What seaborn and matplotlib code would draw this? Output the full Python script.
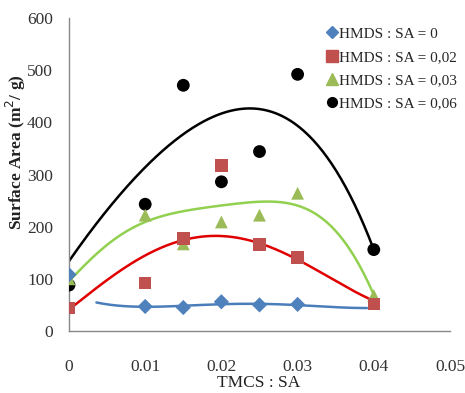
import numpy as np
import pandas as pd
import matplotlib
matplotlib.use("Agg")
import matplotlib.pyplot as plt
import seaborn as sns
from matplotlib.lines import Line2D

# ---- data ----
x_vals = [0.0, 0.01, 0.015, 0.02, 0.025, 0.03, 0.04]
sa_0 = [108, 47, 45, 56, 50, 51, None]
sa_002 = [44, 92, 177, 317, 166, 141, 52]
sa_003 = [100, 222, 167, 209, 222, 264, 68]
sa_006 = [88, 243, 471, 286, 344, 492, 156]
series_names = ["HMDS : SA = 0", "HMDS : SA = 0,02", "HMDS : SA = 0,03", "HMDS : SA = 0,06"]

# trend lines
trend0_x = [0.0036, 0.0102, 0.015, 0.020, 0.0246, 0.0296, 0.0391]
trend0_y = [54.6, 47, 47, 52.7, 51.5, 50, 44]
trend2_x = [0.0, 0.0032, 0.0076, 0.0119, 0.0163, 0.0185, 0.0207, 0.0255, 0.0299, 0.0343, 0.0399]
trend2_y = [42, 77, 122, 161, 180, 182, 180, 164, 138, 103, 58]
trend3_x = [0.0, 0.0032, 0.0076, 0.0119, 0.0163, 0.0207, 0.0255, 0.0290, 0.0321, 0.0356, 0.0386, 0.0401]
trend3_y = [96, 141, 193, 219, 232, 241, 250, 245, 225, 180, 116, 64]
trend6_x = [0.0, 0.0032, 0.0076, 0.0119, 0.0163, 0.0207, 0.0242, 0.0277, 0.0321, 0.0364, 0.0399]
trend6_y = [136, 193, 280, 344, 386, 418, 428, 415, 367, 270, 161]

x_ticks = [0, 0.01, 0.02, 0.03, 0.04, 0.05]
x_ticklabels = ["0", "0.01", "0.02", "0.03", "0.04", "0.05"]
y_ticks = [0, 100, 200, 300, 400, 500, 600]

marker_colors = ["#4F81BD", "#C0504D", "#9BBB59", "#000000"]
line_colors = ["#4A7EBB", "#E00000", "#92D050", "#000000"]
markers = ["D", "s", "^", "o"]
msizes = [60, 80, 85, 85]

rows = []
for name, vals in zip(series_names, [sa_0, sa_002, sa_003, sa_006]):
    for xv, yv in zip(x_vals, vals):
        if yv is not None:
            rows.append({"x": xv, "y": yv, "series": name})
df = pd.DataFrame(rows)

sns.set_style("white")
plt.rcParams["font.family"] = ["Liberation Serif", "DejaVu Serif"]

fig = plt.figure(figsize=(4.65, 3.93), dpi=100)
ax = fig.add_axes([69 / 465, 1 - 331 / 393, (450 - 69) / 465, (331 - 18) / 393])

# trend lines
for tx, ty, c, deg in [(trend0_x, trend0_y, line_colors[0], 4),
                       (trend3_x, trend3_y, line_colors[2], 6),
                       (trend2_x, trend2_y, line_colors[1], 4),
                       (trend6_x, trend6_y, line_colors[3], 5)]:
    coef = np.polyfit(tx, ty, deg)
    xs = np.linspace(min(tx), max(tx), 200)
    sns.lineplot(x=xs, y=np.polyval(coef, xs), ax=ax, color=c, lw=1.8, zorder=2)

# points (draw later series first so the blue diamond sits on top at x=0)
for name, mk, col, ms in list(zip(series_names, markers, marker_colors, msizes))[::-1]:
    sub = df[df["series"] == name]
    sns.scatterplot(data=sub, x="x", y="y", ax=ax, marker=mk, color=col, s=ms,
                    edgecolor="none", linewidth=0, zorder=3, legend=False)

ax.set_xlim(0, 0.05)
ax.set_ylim(0, 600)
ax.set_xticks(x_ticks)
ax.set_xticklabels(x_ticklabels)
ax.set_yticks(y_ticks)
ax.set_xlabel("")
ax.set_ylabel("")
fig.text(259 / 465, 1 - 383 / 393, "TMCS : SA", ha="center", va="center",
         fontsize=12.5, color="#222222")
fig.text(16 / 465, 1 - 152 / 393, "Surface Area (m$^2$/ g)", rotation=90,
         ha="center", va="center", fontsize=12.5, fontweight="bold", color="#222222")

for s in ["top", "right"]:
    ax.spines[s].set_visible(False)
for s in ["left", "bottom"]:
    ax.spines[s].set_color("#888888")
    ax.spines[s].set_linewidth(1.0)
ax.tick_params(axis="x", direction="in", length=4, color="#888888", pad=20,
               labelsize=12.5, labelcolor="#333333")
ax.tick_params(axis="y", direction="in", length=4, color="#888888", pad=11.5,
               labelsize=12.5, labelcolor="#333333")

handles = [Line2D([], [], marker=mk, color=col, linestyle="none", markersize=ms)
           for mk, col, ms in zip(markers, marker_colors, [6, 8, 8, 7])]
leg = fig.legend(handles, series_names, loc="upper left",
                 bbox_to_anchor=(327 / 465, 1 - 27 / 393), frameon=False,
                 fontsize=11, handlelength=0.7, handletextpad=0.1,
                 labelspacing=0.62, borderpad=0, borderaxespad=0)

fig.savefig("out.png", dpi=100)
